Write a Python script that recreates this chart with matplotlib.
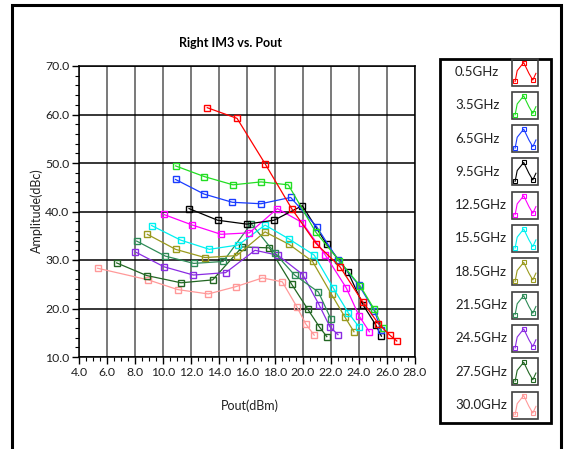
import matplotlib.pyplot as plt
import numpy as np
from matplotlib.patches import Rectangle
from matplotlib.ticker import MultipleLocator, FormatStrFormatter

plt.rcParams['font.family'] = ['Lato', 'DejaVu Sans']

# series (Pout dBm, IM3 dBc)
labels = ['0.5GHz', '3.5GHz', '6.5GHz', '9.5GHz', '12.5GHz', '15.5GHz',
          '18.5GHz', '21.5GHz', '24.5GHz', '27.5GHz', '30.0GHz']
colors = ['#ff0000', '#22dd22', '#1a3cff', '#000000', '#ff00ff', '#00f0f0',
          '#9a9a1e', '#2e8b57', '#8a2be2', '#226622', '#ff9999']

x_05 = [13.16, 15.29, 17.3, 19.19, 20.93, 22.64, 24.26, 25.38, 26.2, 26.7]
y_05 = [61.4, 59.2, 49.8, 40.6, 33.4, 28.6, 21.4, 16.9, 14.5, 13.3]
x_35 = [10.9, 12.95, 15.0, 17.0, 18.95, 20.9, 22.6, 24.1, 25.1, 25.7]
y_35 = [49.4, 47.2, 45.5, 46.1, 45.5, 35.8, 29.8, 24.6, 19.8, 16.0]
x_65 = [10.9, 12.93, 14.95, 17.0, 19.12, 20.97, 22.5, 24.0, 25.1, 25.6]
y_65 = [46.6, 43.6, 41.9, 41.6, 42.9, 36.9, 30.0, 24.8, 19.5, 15.5]
x_95 = [11.86, 13.9, 15.98, 17.93, 19.95, 21.7, 23.2, 24.3, 25.2, 25.6]
y_95 = [40.6, 38.2, 37.4, 38.2, 41.2, 33.2, 27.6, 20.7, 16.6, 14.3]
x_125 = [10.05, 12.1, 14.14, 16.17, 18.17, 19.95, 21.6, 23.1, 24.0, 24.74]
y_125 = [39.4, 37.2, 35.3, 35.6, 40.6, 37.7, 31.0, 24.2, 18.5, 15.2]
x_155 = [9.19, 11.26, 13.31, 15.38, 17.29, 19.02, 20.8, 22.17, 23.24, 24.0]
y_155 = [37.1, 34.1, 32.2, 33.1, 37.2, 34.3, 31.0, 24.2, 19.1, 16.2]
x_185 = [8.88, 10.9, 13.0, 15.26, 17.29, 19.02, 20.68, 22.04, 23.0, 23.64]
y_185 = [35.3, 32.2, 30.5, 30.9, 35.8, 33.2, 29.7, 22.9, 18.2, 15.2]
x_215 = [8.12, 10.17, 12.2, 14.3, 16.3, 18.0, 19.4, 21.1, 22.0]
y_215 = [33.9, 30.8, 29.3, 29.7, 37.5, 31.4, 26.9, 23.4, 17.8]
x_245 = [8.0, 10.07, 12.17, 14.48, 16.57, 18.2, 19.98, 21.14, 21.93, 22.5]
y_245 = [31.7, 28.6, 26.9, 27.4, 32.0, 31.0, 27.0, 20.8, 16.2, 14.6]
x_275 = [6.69, 8.83, 11.29, 13.55, 15.66, 17.6, 19.19, 20.33, 21.17, 21.7]
y_275 = [29.4, 26.8, 25.3, 25.9, 32.7, 32.5, 25.0, 19.9, 16.2, 14.2]
x_300 = [5.33, 8.95, 11.05, 13.24, 15.2, 17.1, 18.52, 19.55, 20.2, 20.8]
y_300 = [28.3, 25.9, 23.9, 23.0, 24.5, 26.3, 25.5, 20.4, 16.8, 14.5]

xs = [x_05, x_35, x_65, x_95, x_125, x_155, x_185, x_215, x_245, x_275, x_300]
ys = [y_05, y_35, y_65, y_95, y_125, y_155, y_185, y_215, y_245, y_275, y_300]

W, H = 569, 449
fig = plt.figure(figsize=(W / 100, H / 100), dpi=100)

# outer frame (bottom edge runs off the picture)
fig.patches.append(Rectangle((12 / W, -10 / H), 549 / W, 454 / H, transform=fig.transFigure,
                             fill=False, ec='black', lw=2.2))

ax = fig.add_axes([79 / W, 1 - 357 / H, (415 - 79) / W, (357 - 66) / H])
ax.set_xlim(4, 28)
ax.set_ylim(10, 70)

for i in range(len(labels)):
    ax.plot(xs[i], ys[i], color=colors[i], lw=0.9, marker='s', ms=3.8,
            mfc='none', mec=colors[i], mew=1.0, zorder=3 + (len(labels) - i) * 0.01)

ax.xaxis.set_major_locator(MultipleLocator(2))
ax.xaxis.set_minor_locator(MultipleLocator(0.5))
ax.yaxis.set_major_locator(MultipleLocator(10))
ax.yaxis.set_minor_locator(MultipleLocator(2))
ax.xaxis.set_major_formatter(FormatStrFormatter('%.1f'))
ax.yaxis.set_major_formatter(FormatStrFormatter('%.1f'))
ax.tick_params(which='major', direction='out', length=5, width=1, labelsize=8.8,
               labelcolor='#202020', pad=2)
ax.tick_params(which='minor', direction='out', length=3, width=0.8)

ax.grid(axis='y', which='major', color='black', lw=1.1)
ax.grid(axis='x', which='major', color='#555555', lw=1.1)
ax.set_axisbelow(True)
for s in ax.spines.values():
    s.set_color('black')
    s.set_linewidth(1.1)

fig.text(230 / W, 1 - 43 / H, 'Right IM3 vs. Pout', ha='center', va='center',
         fontsize=9, fontweight='bold')
fig.text(250 / W, 1 - 406 / H, 'Pout(dBm)', ha='center', va='center', fontsize=9,
         color='#202020')
fig.text(37 / W, 1 - 211 / H, 'Amplitude(dBc)', ha='center', va='center', fontsize=9,
         rotation=90, color='#202020')

# legend panel drawn in pixel coordinates
lg = fig.add_axes([0, 0, 1, 1], zorder=5)
lg.set_xlim(0, W)
lg.set_ylim(H, 0)
lg.axis('off')
lg.add_patch(Rectangle((440, 59), 111, 364, fill=False, ec='black', lw=2))
icon_x = np.array([0.12, 0.2, 0.45, 0.65, 0.8, 0.92])
icon_y = np.array([0.15, 0.55, 0.85, 0.45, 0.2, 0.45])
for i, lab in enumerate(labels):
    cy = 72 + i * 33.3
    lg.text(455, cy, lab, ha='left', va='center', fontsize=9.5, color='#202020')
    lg.add_patch(Rectangle((512, cy - 13.5), 26, 27, fill=False, ec='#404040', lw=1.2))
    px = 512 + icon_x * 26
    py = cy + 13.5 - icon_y * 27
    lg.plot(px, py, color=colors[i], lw=0.8)
    lg.plot(px[[0, 2, 4]], py[[0, 2, 4]], ls='none', marker='s', ms=2.8,
            mfc='none', mec=colors[i], mew=0.8)

fig.savefig('out.png', dpi=100)
